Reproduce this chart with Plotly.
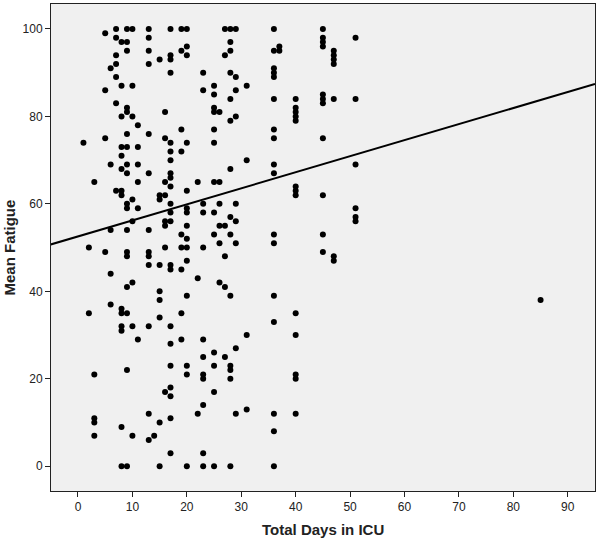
import plotly.graph_objects as go

# Each point: total ICU days (x) and mean fatigue score (y)
total_days = (
    [1] * 1 + [2] * 2 + [3] * 5 + [5] * 4 + [6] * 5 + [7] * 7 + [8] * 14 + [9] * 18 +
    [10] * 8 + [11] * 6 + [13] * 13 + [14] * 1 + [15] * 9 + [16] * 8 + [17] * 22 +
    [19] * 9 + [20] * 15 + [22] * 3 + [23] * 12 + [25] * 13 + [26] * 6 + [27] * 6 +
    [28] * 14 + [29] * 9 + [31] * 4 + [36] * 17 + [37] * 2 + [40] * 13 + [45] * 11 +
    [47] * 7 + [51] * 6 + [85] * 1
)
mean_fatigue = (
    [74] +
    [50, 35] +
    [65, 21, 11, 10, 7] +
    [99, 86, 75, 49] +
    [91, 69, 54, 44, 37] +
    [100, 98, 94, 92, 89, 83, 63] +
    [97, 87, 80, 73, 71, 68, 63, 62, 36, 35, 32, 31, 9, 0] +
    [100, 97, 95, 82, 81, 76, 73, 69, 67, 60, 59, 54, 49, 48, 41, 35, 22, 0] +
    [100, 87, 80, 61, 56, 42, 32, 7] +
    [78, 73, 69, 65, 59, 29] +
    [100, 98, 95, 92, 76, 67, 54, 49, 48, 46, 32, 12, 6] +
    [7] +
    [93, 62, 61, 46, 40, 38, 34, 10, 0] +
    [81, 75, 65, 62, 56, 55, 50, 17] +
    [100, 94, 93, 90, 74, 72, 70, 67, 66, 64, 60, 58, 56, 46, 45, 32, 28, 23, 18, 16, 11, 3] +
    [100, 95, 77, 72, 53, 50, 45, 35, 29] +
    [100, 96, 94, 74, 63, 59, 58, 55, 52, 50, 47, 39, 23, 21, 0] +
    [65, 43, 12] +
    [90, 86, 60, 58, 50, 29, 25, 21, 20, 14, 3, 0] +
    [87, 85, 82, 81, 77, 74, 65, 58, 53, 26, 23, 17, 0] +
    [81, 65, 60, 55, 51, 42] +
    [100, 94, 55, 48, 41, 25] +
    [100, 97, 95, 90, 84, 79, 68, 57, 53, 39, 23, 22, 20, 0] +
    [100, 89, 86, 80, 60, 56, 51, 27, 12] +
    [87, 70, 30, 13] +
    [100, 95, 91, 90, 89, 84, 77, 75, 69, 67, 53, 51, 39, 33, 12, 8, 0] +
    [96, 95] +
    [84, 82, 81, 80, 79, 64, 63, 62, 35, 30, 21, 20, 12] +
    [100, 98, 97, 96, 85, 84, 83, 75, 62, 53, 49] +
    [95, 94, 93, 92, 84, 48, 47] +
    [98, 84, 69, 59, 57, 56] +
    [38]
)

# Fit line
fit_intercept = 52.55
fit_slope = 0.367
fit_x = [-5, 95]
fit_y = [fit_intercept + fit_slope * v for v in fit_x]

x_ticks = [0, 10, 20, 30, 40, 50, 60, 70, 80, 90]
y_ticks = [0, 20, 40, 60, 80, 100]

x_title = "Total Days in ICU"
y_title = "Mean Fatigue"

FONT = "Liberation Sans Narrow, Liberation Sans, Arial, sans-serif"

fig = go.Figure()
fig.add_trace(go.Scatter(
    x=total_days, y=mean_fatigue, mode="markers",
    marker=dict(color="black", size=6, line=dict(width=0)),
    showlegend=False, hoverinfo="x+y",
))
fig.add_trace(go.Scatter(
    x=fit_x, y=fit_y, mode="lines",
    line=dict(color="black", width=2),
    showlegend=False, hoverinfo="skip",
))

axis_common = dict(
    showgrid=False, zeroline=False, automargin=False,
    showline=True, linecolor="#222222", linewidth=1, mirror=True,
    ticks="outside", ticklen=5, tickcolor="#222222",
    tickfont=dict(family=FONT, size=12, color="#222222"),
)

fig.update_layout(
    width=600, height=546,
    margin=dict(l=51, r=5, t=4, b=55, autoexpand=False),
    paper_bgcolor="white",
    plot_bgcolor="#F0F0F0",
    font=dict(family=FONT, size=12, color="black"),
    xaxis=dict(range=[-4.96, 95.0], tickvals=x_ticks,
               ticktext=[str(t) for t in x_ticks], **axis_common),
    yaxis=dict(range=[-5.65, 105.7], tickvals=y_ticks,
               ticktext=[str(t) for t in y_ticks], **axis_common),
    annotations=[
        dict(text="<b>" + x_title + "</b>", xref="paper", yref="paper",
             x=0.5, y=-0.080, xanchor="center", yanchor="middle",
             showarrow=False, font=dict(family=FONT, size=15, color="#222222")),
        dict(text="<b>" + y_title + "</b>", xref="paper", yref="paper",
             x=-0.0754, y=0.5, xanchor="center", yanchor="middle", textangle=-90,
             showarrow=False, font=dict(family=FONT, size=15, color="#222222")),
    ],
)

fig.write_html(
    "out.html",
    config={"displayModeBar": False},
    post_script="document.body.style.margin='0';document.body.style.overflow='hidden';",
)
